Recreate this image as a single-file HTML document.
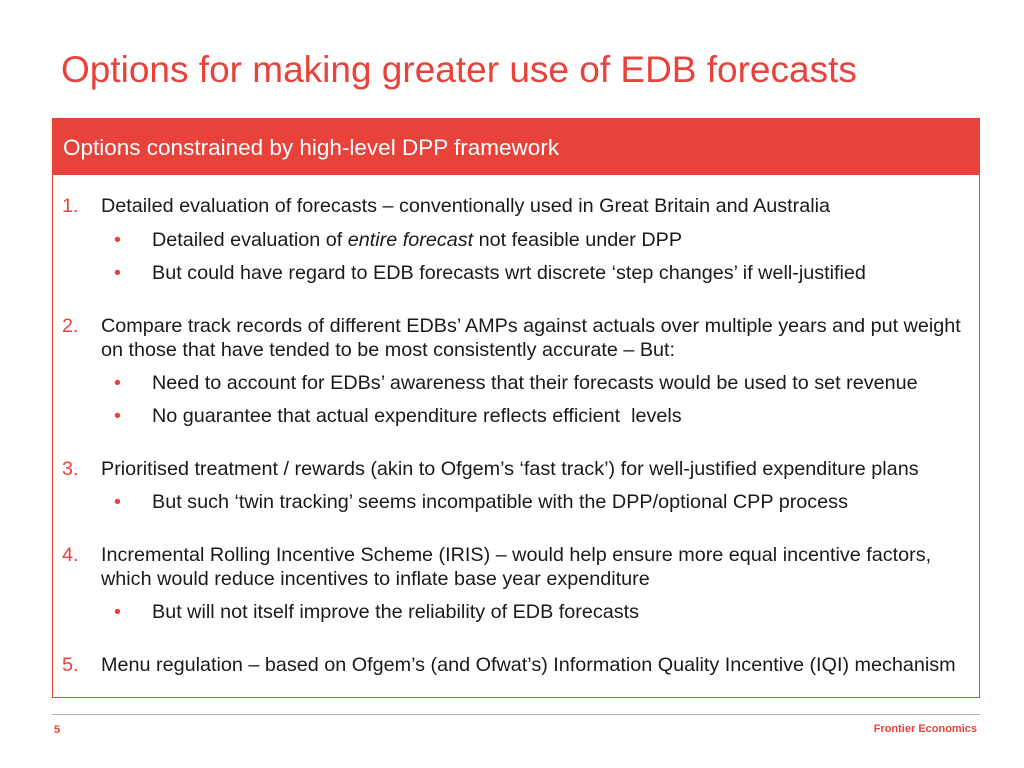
<!DOCTYPE html>
<html><head><meta charset="utf-8"><style>
body{margin:0;width:1024px;height:768px;background:#fff;position:relative;overflow:hidden;font-family:"Liberation Sans",sans-serif;}
.a{position:absolute;white-space:nowrap;}
.t{font-size:19.8px;color:#1a1a1a;line-height:24px;}
.n{font-size:19.8px;color:#e8423a;line-height:24px;}
</style></head><body>
<div class="a" style="left:61px;top:49px;font-size:37px;color:#e8423a;">Options for making greater use of EDB forecasts</div>
<div class="a" style="left:52px;top:118px;width:926px;height:578px;border:1px solid #e8423a;"></div>
<div class="a" style="left:52px;top:118px;width:928px;height:57px;background:#e8423a;"></div>
<div class="a" style="left:63px;top:135px;font-size:22.5px;color:#fff;">Options constrained by high-level DPP framework</div>

<div class="a n" style="left:62px;top:194px">1.</div>
<div class="a t" style="left:101px;top:194px">Detailed evaluation of forecasts – conventionally used in Great Britain and Australia</div>
<div class="a n" style="left:114px;top:228px">•</div>
<div class="a t" style="left:152px;top:228px">Detailed evaluation of <i>entire forecast</i> not feasible under DPP</div>
<div class="a n" style="left:114px;top:261px">•</div>
<div class="a t" style="left:152px;top:261px">But could have regard to EDB forecasts wrt discrete ‘step changes’ if well-justified</div>

<div class="a n" style="left:62px;top:314px">2.</div>
<div class="a t" style="left:101px;top:314px">Compare track records of different EDBs’ AMPs against actuals over multiple years and put weight<br>on those that have tended to be most consistently accurate – But:</div>
<div class="a n" style="left:114px;top:371px">•</div>
<div class="a t" style="left:152px;top:371px">Need to account for EDBs’ awareness that their forecasts would be used to set revenue</div>
<div class="a n" style="left:114px;top:404px">•</div>
<div class="a t" style="left:152px;top:404px">No guarantee that actual expenditure reflects efficient&nbsp; levels</div>

<div class="a n" style="left:62px;top:457px">3.</div>
<div class="a t" style="left:101px;top:457px">Prioritised treatment / rewards (akin to Ofgem’s ‘fast track’) for well-justified expenditure plans</div>
<div class="a n" style="left:114px;top:490px">•</div>
<div class="a t" style="left:152px;top:490px">But such ‘twin tracking’ seems incompatible with the DPP/optional CPP process</div>

<div class="a n" style="left:62px;top:543px">4.</div>
<div class="a t" style="left:101px;top:543px">Incremental Rolling Incentive Scheme (IRIS) – would help ensure more equal incentive factors,<br>which would reduce incentives to inflate base year expenditure</div>
<div class="a n" style="left:114px;top:600px">•</div>
<div class="a t" style="left:152px;top:600px">But will not itself improve the reliability of EDB forecasts</div>

<div class="a n" style="left:62px;top:653px">5.</div>
<div class="a t" style="left:101px;top:653px">Menu regulation – based on Ofgem’s (and Ofwat’s) Information Quality Incentive (IQI) mechanism</div>

<div class="a" style="left:52px;top:714px;width:928px;height:1px;background:#b0b0b0;"></div>
<div class="a" style="left:54px;top:724px;font-size:11px;font-weight:bold;color:#e8423a;">5</div>
<div class="a" style="right:47px;top:723px;font-size:11px;font-weight:bold;color:#e8423a;">Frontier Economics</div>
</body></html>
